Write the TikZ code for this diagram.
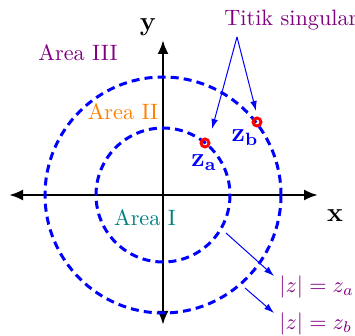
\documentclass[tikz,border=0pt]{standalone}
\usetikzlibrary{arrows.meta}
\begin{document}
\begin{tikzpicture}[x=0.45pt,y=-0.45pt,
  axis/.style={line width=1.3pt,-{Latex[length=6.3pt,width=5pt]}},
  ring/.style={blue,line width=1.35pt,dash pattern=on 3.6pt off 2.3pt},
  pole/.style={circle,draw=red,line width=1.3pt,minimum size=3.6pt,inner sep=0pt},
  pointer/.style={blue,line width=0.45pt,-{Latex[length=4.5pt,width=3pt]}},
  lbl/.style={inner sep=0pt}]
\useasboundingbox (0,0) rectangle (355,336);
% texts behind axes
\node[lbl,violet] (a3) at (78,53) {Area III};
\node[lbl,orange] (a2) at (123,112) {Area II};
\node[lbl,teal] (a1) at (145,218) {Area I};
\node[lbl] (xl) at (335,216) {\large$\mathbf{x}$};
\node[lbl] (yl) at (148,27) {\large$\mathbf{y}$};
% axes
\coordinate (o) at (163,195);
\coordinate (xl0) at (9,195);
\coordinate (xr0) at (318,195);
\coordinate (yt0) at (163,40);
\coordinate (yb0) at (163,325);
\draw[axis] (o) -- (xl0);
\draw[axis] (o) -- (xr0);
\draw[axis] (o) -- (yt0);
\draw[axis] (o) -- (yb0);
% rings
\draw[ring] (o) circle[radius=67];
\draw[ring] (o) circle[radius=118];
% singular points
\node[pole] (za) at (205,143) {};
\node[pole] (zb) at (257,122) {};
\node[lbl,blue] (zal) at (204,163) {\large$\mathbf{z_a}$};
\node[lbl,blue] (zbl) at (245,138) {\large$\mathbf{z_b}$};
% Titik singular
\node[lbl,violet,anchor=west] (ts) at (224,20) {Titik singular};
\coordinate (t0) at (237,37);
\coordinate (ta) at (212,129);
\coordinate (tb) at (256,111);
\draw[pointer] (t0) -- (ta);
\draw[pointer] (t0) -- (tb);
% radius labels
\node[lbl,violet,anchor=west] (ra) at (279,287) {$|z|=z_a$};
\node[lbl,violet,anchor=west] (rb) at (279,324) {$|z|=z_b$};
\coordinate (pa0) at (226,233);
\coordinate (pa1) at (274,276);
\coordinate (pb0) at (245,288);
\coordinate (pb1) at (274,313);
\draw[pointer] (pa0) -- (pa1);
\draw[pointer] (pb0) -- (pb1);
\end{tikzpicture}
\end{document}
